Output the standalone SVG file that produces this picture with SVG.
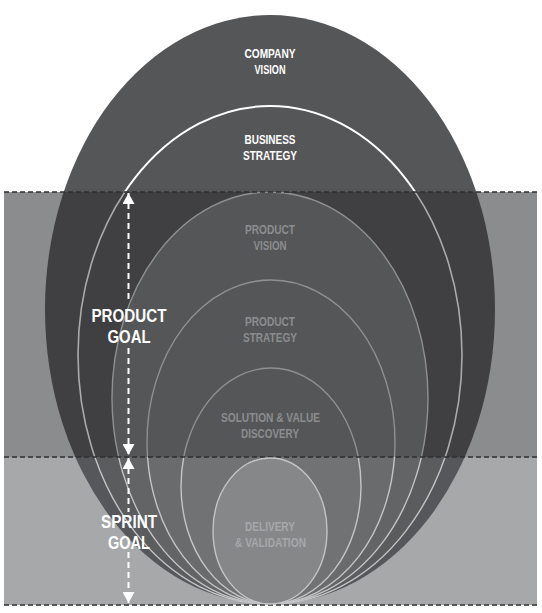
<svg xmlns="http://www.w3.org/2000/svg" xmlns:xlink="http://www.w3.org/1999/xlink" width="542" height="613" viewBox="0 0 542 613">
<style>
.lbl{font-family:"Liberation Sans Narrow","Liberation Sans",Arial,sans-serif;font-weight:bold;font-size:12px;text-anchor:middle}
.big{font-size:19px}
.w{fill:#ffffff}
.g{fill:#8c8d8f}
.gd{fill:#a6a7a9}
.hd{stroke:#2e2f31;stroke-width:1.5;stroke-dasharray:5 3;fill:none}
.vd{stroke:#ffffff;stroke-width:2;stroke-dasharray:6 4;fill:none}
.ln1{fill:none;stroke:#8f9092;stroke-width:1.4}
.ln2{stroke:#c4c5c7;stroke-width:1.4}
</style>
<defs>
<clipPath id="cA"><rect x="0" y="0" width="542" height="192"/></clipPath>
<clipPath id="cB"><rect x="0" y="192" width="542" height="265"/></clipPath>
<clipPath id="cC"><rect x="0" y="457" width="542" height="156"/></clipPath>
<ellipse id="eo" cx="270" cy="309.5" rx="225" ry="294.5"/>
<ellipse id="eb" cx="270" cy="355" rx="192" ry="249"/>
<ellipse id="ep" cx="270" cy="398" rx="158" ry="206"/>
<ellipse id="es" cx="271" cy="442" rx="124" ry="162"/>
<ellipse id="ev" cx="271" cy="486" rx="90" ry="118"/>
<ellipse id="ed" cx="270" cy="531" rx="57" ry="73"/>
<marker id="ah" viewBox="0 0 11 12" refX="11" refY="6" markerWidth="11" markerHeight="12" markerUnits="userSpaceOnUse" orient="auto-start-reverse">
<path d="M0,0 L11,6 L0,12 z" fill="#ffffff"/>
</marker>
</defs>

<g id="bands">
<rect x="4" y="192" width="533" height="265" fill="#8b8c8e"/>
<rect x="4" y="457" width="533" height="148" fill="#a7a8aa"/>
</g>

<g id="company-vision">
<use xlink:href="#eo" href="#eo" clip-path="url(#cA)" fill="#555658"/>
<use xlink:href="#eo" href="#eo" clip-path="url(#cB)" fill="#404042"/>
<use xlink:href="#eo" href="#eo" clip-path="url(#cC)" fill="#56575a"/>
<text class="lbl w" x="270" y="58" textLength="51" lengthAdjust="spacingAndGlyphs">COMPANY</text>
<text class="lbl w" x="270" y="74" textLength="31" lengthAdjust="spacingAndGlyphs">VISION</text>
</g>

<g id="business-strategy">
<use xlink:href="#eb" href="#eb" clip-path="url(#cA)" fill="none" stroke="#ffffff" stroke-width="2"/>
<use xlink:href="#eb" href="#eb" clip-path="url(#cB)" fill="none" stroke="#a9aaac" stroke-width="1.6"/>
<use xlink:href="#eb" href="#eb" clip-path="url(#cC)" fill="#5b5c5e" class="ln2"/>
<text class="lbl w" x="270" y="144" textLength="51" lengthAdjust="spacingAndGlyphs">BUSINESS</text>
<text class="lbl w" x="270" y="160" textLength="54" lengthAdjust="spacingAndGlyphs">STRATEGY</text>
</g>

<g id="product-vision">
<use xlink:href="#ep" href="#ep" clip-path="url(#cB)" fill="#555658" stroke="#8f9092" stroke-width="1.4"/>
<use xlink:href="#ep" href="#ep" clip-path="url(#cC)" fill="#636466" class="ln2"/>
<text class="lbl g" x="270" y="234" textLength="50" lengthAdjust="spacingAndGlyphs">PRODUCT</text>
<text class="lbl g" x="270" y="250" textLength="33" lengthAdjust="spacingAndGlyphs">VISION</text>
</g>

<g id="product-strategy">
<use xlink:href="#es" href="#es" clip-path="url(#cB)" class="ln1"/>
<use xlink:href="#es" href="#es" clip-path="url(#cC)" fill="#6a6b6d" class="ln2"/>
<text class="lbl g" x="270" y="326" textLength="50" lengthAdjust="spacingAndGlyphs">PRODUCT</text>
<text class="lbl g" x="270" y="342" textLength="54" lengthAdjust="spacingAndGlyphs">STRATEGY</text>
</g>

<g id="solution-value-discovery">
<use xlink:href="#ev" href="#ev" clip-path="url(#cB)" class="ln1"/>
<use xlink:href="#ev" href="#ev" clip-path="url(#cC)" fill="#717274" class="ln2"/>
<text class="lbl g" x="270.5" y="421.5" textLength="99" lengthAdjust="spacingAndGlyphs">SOLUTION &amp; VALUE</text>
<text class="lbl g" x="270" y="437.5" textLength="58" lengthAdjust="spacingAndGlyphs">DISCOVERY</text>
</g>

<g id="band-lines">
<line class="hd" x1="4" y1="192" x2="537" y2="192"/>
<line class="hd" x1="4" y1="457" x2="537" y2="457"/>
<line class="hd" x1="4" y1="605" x2="537" y2="605"/>
</g>

<g id="delivery-validation">
<use xlink:href="#ed" href="#ed" fill="#868789" class="ln2"/>
<text class="lbl gd" x="270" y="531" textLength="50" lengthAdjust="spacingAndGlyphs">DELIVERY</text>
<text class="lbl gd" x="270.5" y="547" textLength="71" lengthAdjust="spacingAndGlyphs">&amp; VALIDATION</text>
</g>

<g id="connectors">
<path class="vd" d="M128.5,193 V302" marker-start="url(#ah)"/>
<path class="vd" d="M128.5,348 V455" marker-end="url(#ah)"/>
<path class="vd" d="M128.5,458 V512" marker-start="url(#ah)"/>
<path class="vd" d="M128.5,552 V603" marker-end="url(#ah)"/>
</g>

<g id="product-goal">
<text class="lbl big w" x="129" y="321.5" textLength="75" lengthAdjust="spacingAndGlyphs">PRODUCT</text>
<text class="lbl big w" x="129" y="342.5" textLength="43" lengthAdjust="spacingAndGlyphs">GOAL</text>
</g>

<g id="sprint-goal">
<text class="lbl big w" x="129" y="527.5" textLength="56" lengthAdjust="spacingAndGlyphs">SPRINT</text>
<text class="lbl big w" x="129" y="548.5" textLength="42" lengthAdjust="spacingAndGlyphs">GOAL</text>
</g>
</svg>
